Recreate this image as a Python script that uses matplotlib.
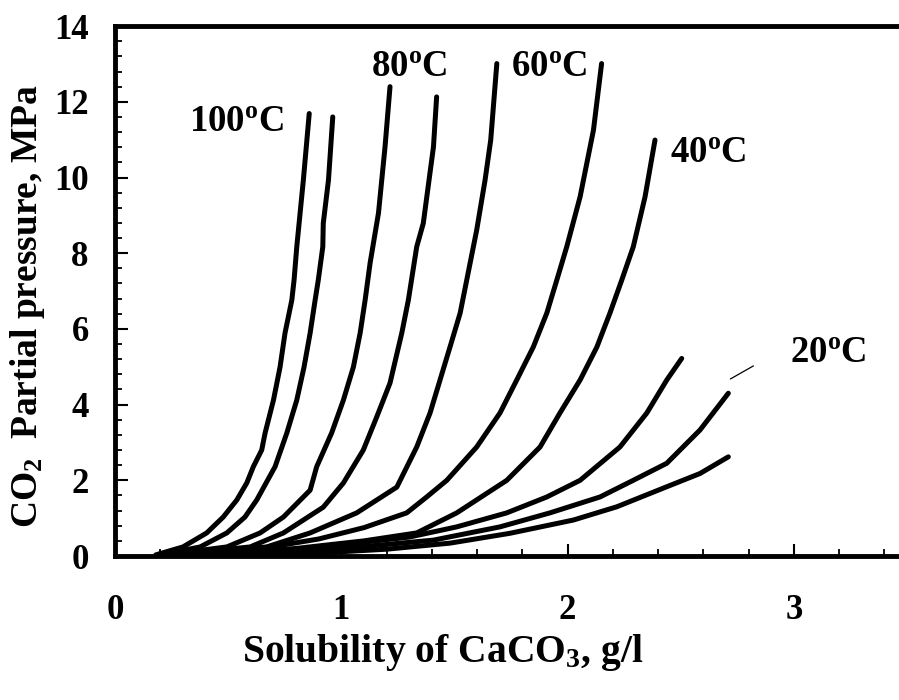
import matplotlib
matplotlib.use("Agg")
import matplotlib.pyplot as plt
from matplotlib.ticker import MultipleLocator

plt.rcParams['font.family'] = ['Liberation Serif', 'DejaVu Serif']
plt.rcParams['font.weight'] = 'bold'
plt.rcParams['mathtext.fontset'] = 'custom'
plt.rcParams['mathtext.rm'] = 'Liberation Serif:bold'
plt.rcParams['mathtext.bf'] = 'Liberation Serif:bold'
plt.rcParams['mathtext.it'] = 'Liberation Serif:bold'

# solubility (g/l) vs CO2 partial pressure (MPa), two curves per temperature
x100a = [0.18, 0.30, 0.405, 0.478, 0.538, 0.582, 0.611, 0.648, 0.663, 0.70, 0.729, 0.751, 0.781, 0.791, 0.803, 0.832, 0.858]
y100a = [0.03, 0.24, 0.61, 1.03, 1.48, 1.93, 2.36, 2.80, 3.25, 4.12, 4.99, 5.89, 6.76, 7.29, 8.17, 9.93, 11.69]
x100b = [0.20, 0.376, 0.494, 0.574, 0.626, 0.707, 0.759, 0.803, 0.835, 0.862, 0.884, 0.898, 0.918, 0.92, 0.943, 0.962]
y100b = [0.03, 0.24, 0.61, 1.03, 1.48, 2.36, 3.25, 4.12, 4.99, 5.89, 6.76, 7.29, 8.17, 8.79, 9.93, 11.60]
x80a = [0.22, 0.494, 0.641, 0.744, 0.862, 0.891, 0.957, 1.009, 1.053, 1.083, 1.105, 1.127, 1.164, 1.193, 1.215]
y80a = [0.03, 0.24, 0.61, 1.03, 1.74, 2.36, 3.25, 4.12, 4.99, 5.89, 6.76, 7.74, 9.06, 10.81, 12.40]
x80b = [0.25, 0.597, 0.744, 0.92, 1.009, 1.097, 1.156, 1.215, 1.267, 1.296, 1.333, 1.362, 1.407, 1.421]
y80b = [0.03, 0.24, 0.61, 1.29, 1.93, 2.80, 3.67, 4.57, 5.89, 6.76, 8.17, 8.79, 10.81, 12.13]
x60a = [0.28, 0.67, 0.862, 1.068, 1.245, 1.333, 1.392, 1.436, 1.48, 1.525, 1.554, 1.569, 1.598, 1.635, 1.66, 1.687]
y60a = [0.03, 0.24, 0.61, 1.14, 1.82, 2.88, 3.78, 4.65, 5.52, 6.42, 7.29, 7.74, 8.61, 9.93, 10.99, 13.01]
x60b = [0.30, 0.45, 0.70, 0.90, 1.10, 1.289, 1.377, 1.466, 1.598, 1.701, 1.775, 1.848, 1.908, 1.952, 1.996, 2.055, 2.114, 2.15]
y60b = [0.03, 0.08, 0.25, 0.45, 0.75, 1.14, 1.56, 2.00, 2.88, 3.78, 4.65, 5.52, 6.42, 7.29, 8.17, 9.49, 11.25, 13.01]
x40a = [0.35, 0.50, 0.80, 1.10, 1.333, 1.51, 1.731, 1.878, 1.966, 2.055, 2.129, 2.187, 2.239, 2.29, 2.342, 2.386]
y40a = [0.03, 0.07, 0.20, 0.40, 0.61, 1.14, 2.00, 2.88, 3.78, 4.65, 5.52, 6.42, 7.29, 8.17, 9.49, 10.99]
x40b = [0.40, 0.70, 1.00, 1.30, 1.51, 1.731, 1.908, 2.055, 2.231, 2.35, 2.438, 2.504]
y40b = [0.02, 0.12, 0.30, 0.50, 0.77, 1.14, 1.56, 2.00, 2.88, 3.78, 4.65, 5.22]
x20a = [0.45, 0.80, 1.10, 1.407, 1.701, 1.922, 2.143, 2.29, 2.438, 2.585, 2.71]
y20a = [0.02, 0.10, 0.25, 0.42, 0.77, 1.14, 1.56, 2.00, 2.45, 3.33, 4.30]
x20b = [0.50, 0.90, 1.20, 1.48, 1.745, 2.025, 2.217, 2.438, 2.585, 2.71]
y20b = [0.02, 0.08, 0.18, 0.34, 0.60, 0.95, 1.30, 1.83, 2.18, 2.62]

curves = [(x100a, y100a), (x100b, y100b), (x80a, y80a), (x80b, y80b),
          (x60a, y60a), (x60b, y60b), (x40a, y40a), (x40b, y40b),
          (x20a, y20a), (x20b, y20b)]

labels = ['100', '80', '60', '40', '20']
label_x = [0.535, 1.30, 1.92, 2.62, 3.15]
label_y = [11.46, 12.9, 12.9, 10.64, 5.36]
leader_x = [2.72, 2.82]
leader_y = [4.68, 5.02]

fig = plt.figure(figsize=(8.99, 7.0), dpi=100)
ax = fig.add_axes([0.128, 0.2057, 0.881, 0.757])

for cx, cy in curves:
    ax.plot(cx, cy, color='black', lw=3.6, solid_capstyle='round',
            solid_joinstyle='round', zorder=3)

ax.plot(leader_x, leader_y, color='black', lw=0.9)

for t, lx, ly in zip(labels, label_x, label_y):
    ax.text(lx, ly, t + r'$^{\mathbf{o}}$C', ha='center', va='center',
            fontsize=26.5, fontweight='bold')

ax.set_xlim(0, 3.5)
ax.set_ylim(0, 14)
ax.set_xticks([0, 1, 2, 3])
ax.set_yticks(range(0, 15, 2))
ax.xaxis.set_minor_locator(MultipleLocator(0.2))
ax.yaxis.set_minor_locator(MultipleLocator(0.4))
ax.tick_params(which='major', direction='in', length=9, width=1.5,
               labelsize=25)
ax.tick_params(which='minor', direction='in', length=5, width=1.3)
ax.tick_params(axis='x', which='major', pad=27)
ax.tick_params(axis='y', which='major', pad=19)
for lab in ax.get_xticklabels() + ax.get_yticklabels():
    lab.set_fontweight('bold')

for sp in ax.spines.values():
    sp.set_linewidth(3.5)

fig.text(0.493, 0.068, r'Solubility of CaCO$_{\mathbf{3}}$, g/l',
         ha='center', va='center', fontsize=28.5, fontweight='bold')
fig.text(0.031, 0.563, r'CO$_{\mathbf{2}}$  Partial pressure, MPa',
         ha='center', va='center', rotation=90, fontsize=27,
         fontweight='bold')

fig.savefig('out.png', dpi=100)
